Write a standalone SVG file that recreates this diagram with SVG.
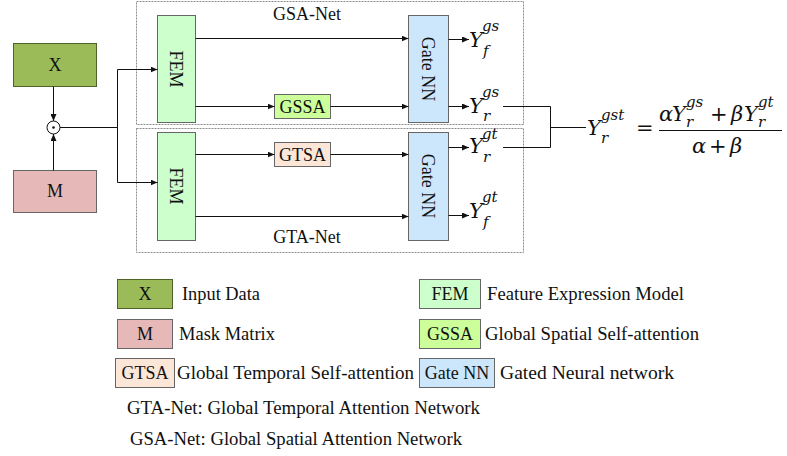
<svg xmlns="http://www.w3.org/2000/svg" width="787" height="456" viewBox="0 0 787 456">
  <style>
    .box { stroke: #666; stroke-width: 1; }
    .lbl { font-family: "Liberation Serif", "Times New Roman", serif; font-size: 18px; fill: #111; }
    .math { font-family: "DejaVu Serif", "Liberation Serif", serif; font-style: italic; fill: #111; }
    .big { font-size: 21px; }
    .sc { font-size: 15px; }
    .up { font-family: "DejaVu Serif", "Liberation Serif", serif; font-style: normal; fill: #111; font-size: 21px; }
    .wire { stroke: #111; stroke-width: 1; fill: none; }
    .frame { stroke: #8a8a8a; stroke-width: 1; fill: none; stroke-dasharray: 2 1; }
    .fx { fill: #9BBB59; }
    .fm { fill: #E6B9B8; }
    .ffem { fill: #CCFFCC; }
    .fgssa { fill: #CCFF99; }
    .fgtsa { fill: #FCE6D8; }
    .fgate { fill: #CCE7FB; }
  </style>
  <defs>
    <marker id="arr" viewBox="0 0 7 6" refX="7" refY="3" markerWidth="7" markerHeight="6" markerUnits="userSpaceOnUse" orient="auto">
      <path d="M0,0 L7,3 L0,6 z" fill="#111"/>
    </marker>
  </defs>

  <!-- sub-network frames -->
  <g id="gsa-net">
    <rect class="frame" x="136.5" y="1.5" width="387" height="123"/>
    <text class="lbl" x="307" y="20" text-anchor="middle">GSA-Net</text>
  </g>
  <g id="gta-net">
    <rect class="frame" x="136.5" y="128.5" width="387" height="124"/>
    <text class="lbl" x="307" y="243" text-anchor="middle">GTA-Net</text>
  </g>

  <!-- inputs -->
  <g id="x-input">
    <rect class="box fx" x="13.5" y="43.5" width="83" height="43" style="stroke:#4F6228"/>
    <text class="lbl" x="55" y="71" text-anchor="middle">X</text>
  </g>
  <g id="m-mask">
    <rect class="box fm" x="13.5" y="170.5" width="83" height="42"/>
    <text class="lbl" x="55" y="197" text-anchor="middle">M</text>
  </g>
  <g id="odot">
    <circle cx="53.5" cy="127.5" r="6.5" fill="#fff" stroke="#111" stroke-width="1"/>
    <circle cx="53.5" cy="127.5" r="1.3" fill="#111"/>
  </g>

  <!-- feature expression models -->
  <g id="fem-top">
    <rect class="box ffem" x="157.5" y="15.5" width="38" height="107"/>
    <text class="lbl" transform="translate(176,69) rotate(90)" x="0" y="6" text-anchor="middle">FEM</text>
  </g>
  <g id="fem-bottom">
    <rect class="box ffem" x="157.5" y="132.5" width="38" height="108"/>
    <text class="lbl" transform="translate(176,186) rotate(90)" x="0" y="6" text-anchor="middle">FEM</text>
  </g>

  <!-- attention blocks -->
  <g id="gssa">
    <rect class="box fgssa" x="274.5" y="94.5" width="56" height="24"/>
    <text class="lbl" x="302.5" y="113" text-anchor="middle">GSSA</text>
  </g>
  <g id="gtsa">
    <rect class="box fgtsa" x="274.5" y="142.5" width="56" height="24"/>
    <text class="lbl" x="302.5" y="161" text-anchor="middle">GTSA</text>
  </g>

  <!-- gated networks -->
  <g id="gate-top">
    <rect class="box fgate" x="408.5" y="15.5" width="40" height="107"/>
    <text class="lbl" transform="translate(428,69) rotate(90)" x="0" y="6" text-anchor="middle">Gate NN</text>
  </g>
  <g id="gate-bottom">
    <rect class="box fgate" x="408.5" y="132.5" width="40" height="108"/>
    <text class="lbl" transform="translate(428,186) rotate(90)" x="0" y="6" text-anchor="middle">Gate NN</text>
  </g>

  <!-- outputs -->
  <g id="y-f-gs">
    <text class="math big" x="469" y="47">Y</text>
    <text class="math sc" x="482" y="31">gs</text>
    <text class="math sc" x="483" y="56">f</text>
  </g>
  <g id="y-r-gs">
    <text class="math big" x="469" y="113">Y</text>
    <text class="math sc" x="482" y="97">gs</text>
    <text class="math sc" x="483" y="121">r</text>
  </g>
  <g id="y-r-gt">
    <text class="math big" x="469" y="153">Y</text>
    <text class="math sc" x="482" y="139">gt</text>
    <text class="math sc" x="483" y="162">r</text>
  </g>
  <g id="y-f-gt">
    <text class="math big" x="469" y="218">Y</text>
    <text class="math sc" x="482" y="202">gt</text>
    <text class="math sc" x="483" y="227">f</text>
  </g>

  <!-- fusion formula -->
  <g id="fusion">
    <text class="math big" x="587" y="135">Y</text>
    <text class="math sc" x="601" y="120">gst</text>
    <text class="math sc" x="601" y="143">r</text>
    <text class="up" x="636" y="135">=</text>
    <text class="math big" x="659" y="121">α</text>
    <text class="math big" x="672" y="121">Y</text>
    <text class="math sc" x="686" y="107">gs</text>
    <text class="math sc" x="686" y="127">r</text>
    <text class="up" x="710" y="121">+</text>
    <text class="math big" x="731" y="121">β</text>
    <text class="math big" x="744" y="121">Y</text>
    <text class="math sc" x="758" y="107">gt</text>
    <text class="math sc" x="758" y="127">r</text>
    <line x1="659" y1="130.5" x2="782" y2="130.5" stroke="#111" stroke-width="1.2"/>
    <text class="math big" x="692" y="153">α</text>
    <text class="up" x="709" y="153">+</text>
    <text class="math big" x="730" y="153">β</text>
  </g>

  <!-- connectors -->
  <g id="connectors">
    <line class="wire" x1="53.5" y1="86.5" x2="53.5" y2="121" marker-end="url(#arr)"/>
    <line class="wire" x1="53.5" y1="170.5" x2="53.5" y2="134" marker-end="url(#arr)"/>
    <polyline class="wire" points="60,127.5 117.5,127.5"/>
    <polyline class="wire" points="117.5,182.5 117.5,69.5"/>
    <line class="wire" x1="117.5" y1="69.5" x2="157.5" y2="69.5" marker-end="url(#arr)"/>
    <line class="wire" x1="117.5" y1="182.5" x2="157.5" y2="182.5" marker-end="url(#arr)"/>

    <line class="wire" x1="195.5" y1="38.5" x2="408.5" y2="38.5" marker-end="url(#arr)"/>
    <line class="wire" x1="195.5" y1="106.5" x2="274.5" y2="106.5" marker-end="url(#arr)"/>
    <line class="wire" x1="330.5" y1="106.5" x2="408.5" y2="106.5" marker-end="url(#arr)"/>
    <line class="wire" x1="195.5" y1="154.5" x2="274.5" y2="154.5" marker-end="url(#arr)"/>
    <line class="wire" x1="330.5" y1="154.5" x2="408.5" y2="154.5" marker-end="url(#arr)"/>
    <line class="wire" x1="195.5" y1="216.5" x2="408.5" y2="216.5" marker-end="url(#arr)"/>

    <line class="wire" x1="448.5" y1="39.5" x2="469" y2="39.5" marker-end="url(#arr)"/>
    <line class="wire" x1="448.5" y1="106.5" x2="469" y2="106.5" marker-end="url(#arr)"/>
    <line class="wire" x1="448.5" y1="147.5" x2="469" y2="147.5" marker-end="url(#arr)"/>
    <line class="wire" x1="448.5" y1="215.5" x2="469" y2="215.5" marker-end="url(#arr)"/>

    <polyline class="wire" points="503,106.5 550.5,106.5 550.5,147.5 503,147.5"/>
    <line class="wire" x1="550.5" y1="127.5" x2="586" y2="127.5"/>
  </g>

  <!-- legend -->
  <g id="legend">
    <rect class="box fx" x="117.5" y="279.5" width="55" height="29" style="stroke:#4F6228"/>
    <text class="lbl" x="145" y="300" text-anchor="middle">X</text>
    <text class="lbl" x="182" y="300" textLength="78" lengthAdjust="spacingAndGlyphs">Input Data</text>

    <rect class="box fm" x="117.5" y="319.5" width="55" height="29"/>
    <text class="lbl" x="145" y="340" text-anchor="middle">M</text>
    <text class="lbl" x="179" y="340" textLength="96" lengthAdjust="spacingAndGlyphs">Mask Matrix</text>

    <rect class="box fgtsa" x="115.5" y="358.5" width="59" height="29"/>
    <text class="lbl" x="145" y="379" text-anchor="middle">GTSA</text>
    <text class="lbl" x="177" y="379" textLength="237" lengthAdjust="spacingAndGlyphs">Global Temporal Self-attention</text>

    <rect class="box ffem" x="419.5" y="279.5" width="61" height="29"/>
    <text class="lbl" x="450" y="300" text-anchor="middle">FEM</text>
    <text class="lbl" x="487" y="300" textLength="197" lengthAdjust="spacingAndGlyphs">Feature Expression Model</text>

    <rect class="box fgssa" x="419.5" y="319.5" width="61" height="29"/>
    <text class="lbl" x="450" y="340" text-anchor="middle">GSSA</text>
    <text class="lbl" x="485" y="340" textLength="214" lengthAdjust="spacingAndGlyphs">Global Spatial Self-attention</text>

    <rect class="box fgate" x="419.5" y="358.5" width="75" height="29"/>
    <text class="lbl" x="457" y="379" text-anchor="middle">Gate NN</text>
    <text class="lbl" x="500" y="379" textLength="174" lengthAdjust="spacingAndGlyphs">Gated Neural network</text>

    <text class="lbl" x="127" y="414" textLength="353" lengthAdjust="spacingAndGlyphs">GTA-Net: Global Temporal Attention Network</text>
    <text class="lbl" x="130" y="445" textLength="332" lengthAdjust="spacingAndGlyphs">GSA-Net: Global Spatial Attention Network</text>
  </g>
</svg>
